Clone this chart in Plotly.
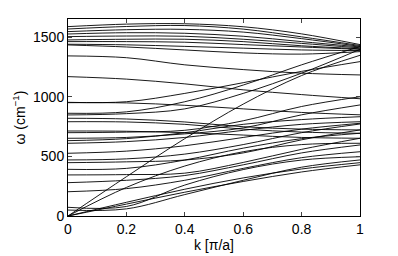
import plotly.graph_objects as go

k = [0.0, 0.2, 0.4, 0.6, 0.8, 1.0]

# acoustic branches
a1 = [0, 100, 200, 290, 370, 430]
a2 = [0, 115, 225, 320, 395, 448]
a3 = [0, 240, 420, 540, 600, 611]
a4 = [0, 330, 650, 940, 1180, 1350]

# lower optical branches
o1 = [50, 60, 180, 300, 410, 471]
o2 = [73, 80, 260, 390, 470, 498]
o3 = [204, 230, 300, 400, 490, 540]
o4 = [280, 300, 340, 430, 530, 597]
o5 = [345, 348, 360, 450, 560, 653]
o6 = [392, 400, 470, 570, 650, 695]
o7 = [448, 455, 470, 530, 640, 723]
o8 = [471, 480, 520, 600, 700, 773]
o9 = [527, 545, 590, 660, 730, 779]
o10 = [611, 625, 660, 720, 770, 792]
o11 = [633, 650, 700, 770, 810, 834]
o12 = [653, 660, 690, 740, 850, 933]
o13 = [700, 705, 720, 800, 920, 1002]
o14 = [714, 712, 700, 680, 660, 653]
o15 = [792, 790, 770, 730, 705, 695]
o16 = [821, 815, 790, 750, 730, 723]
o17 = [849, 860, 900, 1030, 1200, 1400]
o18 = [863, 875, 960, 1100, 1270, 1423]
o19 = [952, 950, 930, 900, 870, 850]
o20 = [1171, 1150, 1110, 1060, 1020, 985]
o21 = [1345, 1330, 1270, 1230, 1200, 1185]

# upper optical branches
u1 = [1591, 1612, 1615, 1590, 1530, 1440]
u2 = [1571, 1592, 1600, 1570, 1505, 1432]
u3 = [1549, 1565, 1568, 1545, 1490, 1425]
u4 = [1529, 1540, 1535, 1510, 1465, 1420]
u5 = [1507, 1512, 1510, 1485, 1450, 1412]
u6 = [1479, 1485, 1485, 1465, 1430, 1405]
u7 = [1465, 1465, 1460, 1440, 1420, 1400]
u8 = [1443, 1438, 1425, 1410, 1395, 1390]
u9 = [1437, 1420, 1395, 1370, 1360, 1381]
u10 = [955, 960, 1030, 1120, 1215, 1297]

bands = [a1, a2, a3, a4, o1, o2, o3, o4, o5, o6, o7, o8, o9, o10, o11, o12,
         o13, o14, o15, o16, o17, o18, o19, o20, o21,
         u1, u2, u3, u4, u5, u6, u7, u8, u9, u10]

x_ticks = [0, 0.2, 0.4, 0.6, 0.8, 1]
x_labels = ["0", "0.2", "0.4", "0.6", "0.8", "1"]
y_ticks = [0, 500, 1000, 1500]
y_labels = ["0", "500", "1000", "1500"]

fig = go.Figure()
for b in bands:
    fig.add_trace(go.Scatter(x=k, y=b, mode="lines", line=dict(color="black", width=0.9, shape="spline"),
                             showlegend=False, hoverinfo="skip"))

font = dict(family="Liberation Sans, Arial, sans-serif", size=14, color="black")
fig.update_layout(
    width=390, height=248,
    margin=dict(l=60, r=38, t=11, b=40),
    paper_bgcolor="white", plot_bgcolor="white",
    font=font,
    xaxis=dict(range=[0, 1], tickvals=x_ticks, ticktext=x_labels, ticks="inside", ticklen=4,
               showline=True, linecolor="black", linewidth=1, mirror="ticks",
               showgrid=False, zeroline=False, automargin=False,
               title=dict(text="k [π/a]", standoff=0, font=font)),
    yaxis=dict(range=[0, 1655], tickvals=y_ticks, ticktext=y_labels, ticks="inside", ticklen=4,
               showline=True, linecolor="black", linewidth=1, mirror="ticks",
               showgrid=False, zeroline=False, automargin=False,
               title=dict(text="ω (cm<sup>−1</sup>)", standoff=4, font=font)),
)
fig.write_html("out.html")
